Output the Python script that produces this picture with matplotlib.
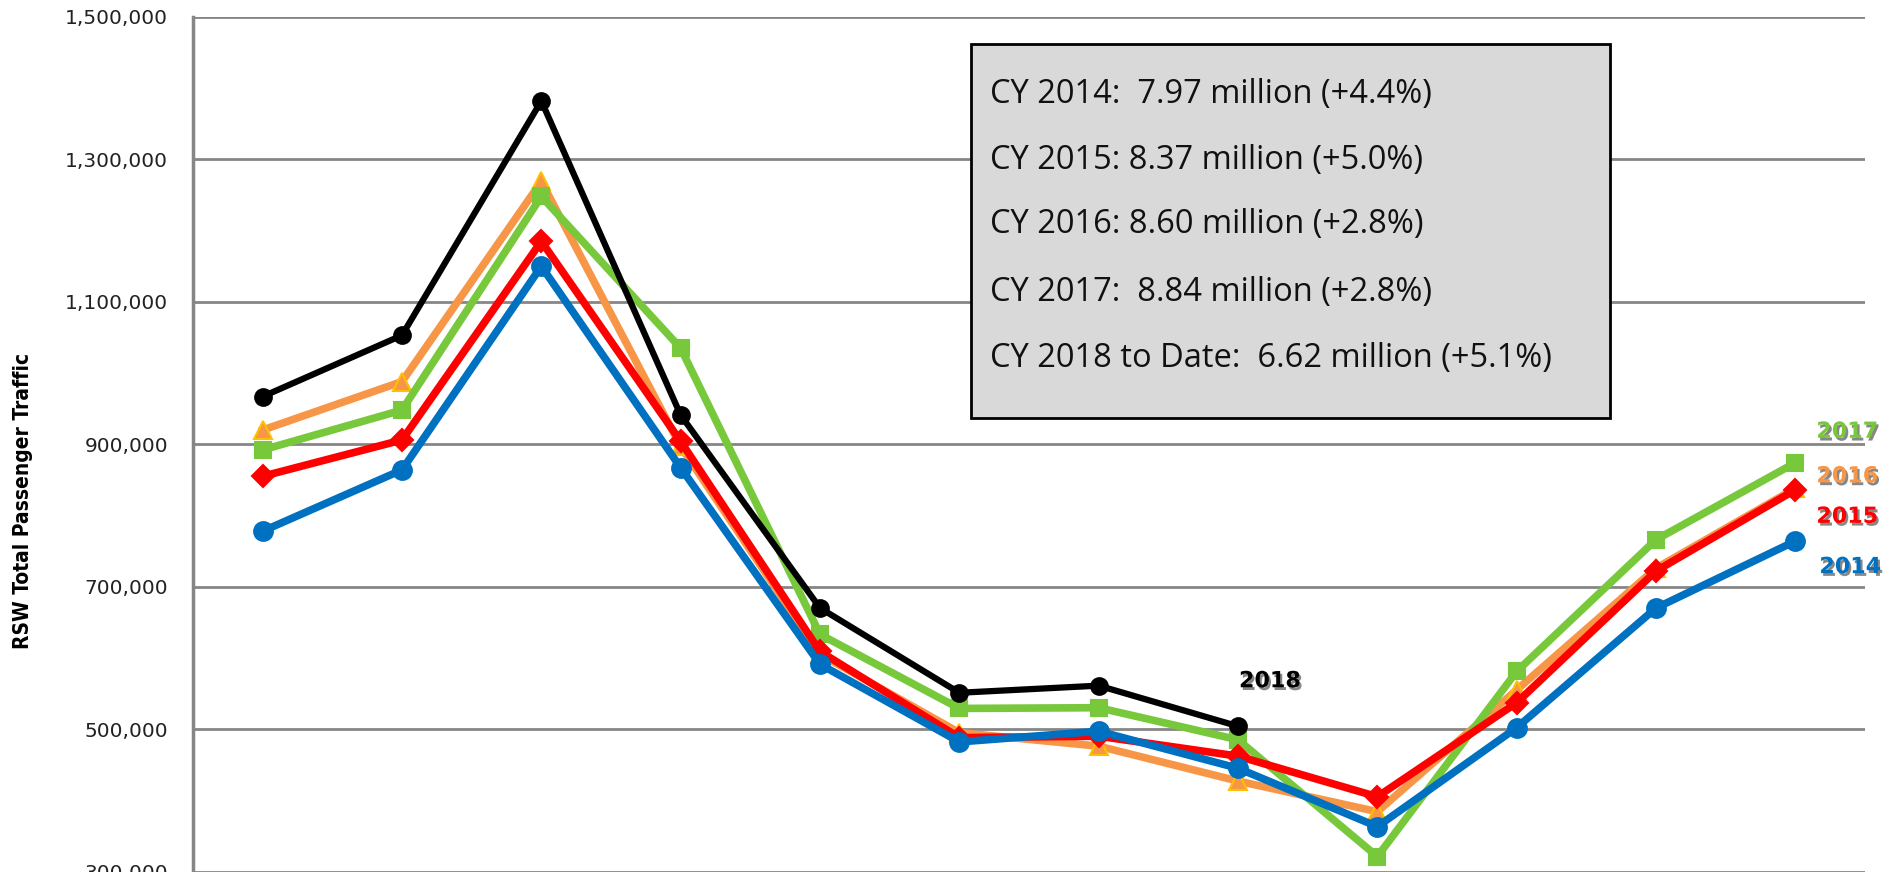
import matplotlib

matplotlib.use("Agg")
import matplotlib.pyplot as plt
import matplotlib.patheffects as pe
import numpy as np
from matplotlib.patches import Rectangle
from matplotlib.ticker import FuncFormatter

# Data (monthly passenger traffic)
months = ["Jan", "Feb", "Mar", "Apr", "May", "Jun",
          "Jul", "Aug", "Sep", "Oct", "Nov", "Dec"]
y2014 = [778000, 864000, 1150000, 867000, 591000, 482000,
         497000, 445000, 363000, 502000, 670000, 764000]
y2015 = [855000, 906000, 1185000, 904000, 609000, 488000,
         490000, 462000, 405000, 537000, 722000, 836000]
y2016 = [920000, 988000, 1269000, 897000, 605000, 495000,
         476000, 427000, 384000, 555000, 726000, 838000]
y2017 = [892000, 948000, 1248000, 1035000, 633000, 529000,
         530000, 485000, 321000, 581000, 766000, 874000]
y2018 = [967000, 1053000, 1382000, 941000, 670000, 551000,
         561000, 504000]
y_ticks = [300000, 500000, 700000, 900000, 1100000, 1300000, 1500000]

summary = [
    "CY 2014:  7.97 million (+4.4%)",
    "CY 2015: 8.37 million (+5.0%)",
    "CY 2016: 8.60 million (+2.8%)",
    "CY 2017:  8.84 million (+2.8%)",
    "CY 2018 to Date:  6.62 million (+5.1%)",
]

W, H = 1898, 872
fig = plt.figure(figsize=(W / 100, H / 100), dpi=100)
ax = fig.add_axes([193 / W, 0.5 / H, (1865 - 193) / W, (871.5 - 17) / H])

x = np.arange(len(months))
shadow = [pe.SimplePatchShadow(offset=(1.5, -2), shadow_rgbFace="#555555", alpha=0.7),
          pe.Normal()]

# name, values, colour, marker, marker size, face, edge, line width, z
series = [
    ("2016", y2016, "#F79646", "^", 13, "#F79646", "#FFC000", 5.5, 2),
    ("2017", y2017, "#78C83C", "s", 12, "#78C83C", "#78C83C", 5.5, 3),
    ("2015", y2015, "#FF0000", "D", 11, "#FF0000", "#FF0000", 5.5, 4),
    ("2014", y2014, "#0070C0", "o", 13.5, "#0070C0", "#0070C0", 5.5, 5),
    ("2018", y2018, "#000000", "o", 12, "#000000", "#000000", 4.5, 6),
]
for name, vals, col, mk, ms, fc, ec, lw, z in series:
    ax.plot(x[:len(vals)], vals, color=col, lw=lw, marker=mk, markersize=ms,
            markerfacecolor=fc, markeredgecolor=ec, markeredgewidth=1.5,
            zorder=z, solid_joinstyle="miter")

# series labels next to the last points
label_offsets = {"2017": (21, 31), "2016": (21, 12), "2015": (21, -27),
                 "2014": (24, -26), "2018": (32, 45)}
for name, vals, col, *_ in series:
    dx, dy = label_offsets[name]
    ax.annotate(name, xy=(len(vals) - 1, vals[-1]), xytext=(dx, dy),
                textcoords="offset pixels",
                ha="center" if name == "2018" else "left", va="center",
                fontsize=16, fontweight="bold", color=col,
                path_effects=shadow, zorder=10)

ax.set_xlim(-0.5, 11.5)
ax.set_ylim(y_ticks[0], y_ticks[-1])
ax.set_xticks(x)
ax.set_xticklabels([])
ax.set_yticks(y_ticks)
ax.yaxis.set_major_formatter(FuncFormatter(lambda v, p: f"{int(v):,}"))
ax.tick_params(axis="y", length=0, pad=18, labelsize=14.5, labelcolor="#222222")
ax.tick_params(axis="x", length=0)
ax.grid(axis="y", color="#868686", lw=2)
ax.set_axisbelow(True)
for s in ["top", "right", "bottom"]:
    ax.spines[s].set_visible(False)
ax.spines["left"].set_color("#868686")
ax.spines["left"].set_linewidth(2.5)

fig.text(23 / W, 1 - 501 / H, "RSW Total Passenger Traffic", rotation=90,
         ha="center", va="center", fontsize=15, fontweight="bold",
         fontstretch="condensed",
         family=["Liberation Sans Narrow", "DejaVu Sans"])

# summary box
fig.patches.append(Rectangle((971 / W, 1 - 418 / H), 639 / W, 374 / H,
                             transform=fig.transFigure, facecolor="#d9d9d9",
                             edgecolor="black", lw=2, zorder=20))
line_y = [94, 161, 225, 292, 358]
for txt, yy in zip(summary, line_y):
    fig.text(990 / W, 1 - yy / H, txt, ha="left", va="center", fontsize=23.5,
             family=["Open Sans", "DejaVu Sans"], color="#111111", zorder=21)

fig.savefig("out.png", dpi=100)
